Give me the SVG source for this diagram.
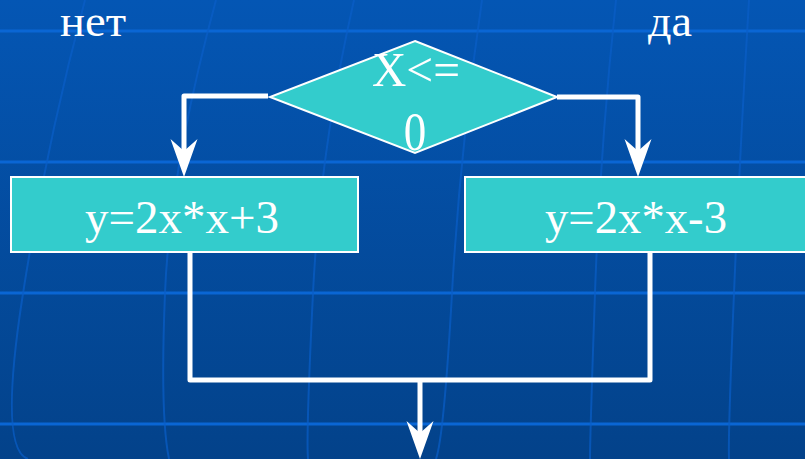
<svg xmlns="http://www.w3.org/2000/svg" width="805" height="459" viewBox="0 0 805 459">
  <defs>
    <linearGradient id="bg" x1="0" y1="0" x2="0" y2="1">
      <stop offset="0" stop-color="#0456B4"/>
      <stop offset="1" stop-color="#03428A"/>
    </linearGradient>
    <marker id="arrow" markerUnits="userSpaceOnUse" viewBox="-20 -15 42 30" refX="0" refY="0" markerWidth="42" markerHeight="30" orient="auto">
      <path d="M20,0 L-18,-13.5 L-6,0 L-18,13.5 Z" fill="#FFFFFF"/>
    </marker>
  </defs>
  <style>
    .grid-h { stroke: #0A66D4; stroke-width: 3; fill: none; }
    .grid-v { stroke: #0A5EC8; stroke-width: 2; fill: none; opacity: 0.7; }
    .shape { fill: #33CCCC; stroke: #FFFFFF; stroke-width: 2; }
    .conn { fill: none; stroke: #FFFFFF; stroke-width: 5; stroke-linejoin: round; }
    .lbl { fill: #FFFFFF; font-family: "Liberation Serif", "Times New Roman", serif; }
  </style>
  <rect x="0" y="0" width="805" height="459" fill="url(#bg)"/>
  <g id="background-grid">
    <path class="grid-h" d="M0,31 H805 M0,162 H805 M0,293 H805 M0,424 H805"/>
    <path class="grid-v" d="M85,0 Q45,150 22,300 T28,459"/>
    <path class="grid-v" d="M216,0 Q170,170 165,293 T169,459"/>
    <path class="grid-v" d="M354,0 Q320,150 313,293 T308,459"/>
    <path class="grid-v" d="M482,0 Q460,150 452,293 T436,459"/>
    <path class="grid-v" d="M616,0 Q600,150 595,293 T590,459"/>
    <path class="grid-v" d="M749,0 Q740,150 734,293 T729,459"/>
  </g>
  <g id="label-no">
    <text class="lbl" x="60" y="36" font-size="44" textLength="66" lengthAdjust="spacingAndGlyphs">нет</text>
  </g>
  <g id="label-yes">
    <text class="lbl" x="648" y="36" font-size="44" textLength="44" lengthAdjust="spacingAndGlyphs">да</text>
  </g>
  <g id="decision">
    <polygon class="shape" points="415,41 557,97 415,153 270,97"/>
    <text class="lbl" transform="translate(372,86) scale(1,1.1)" font-size="45" textLength="88" lengthAdjust="spacingAndGlyphs">X&lt;=</text>
    <text class="lbl" transform="translate(415,150) scale(1,1.2)" font-size="45" text-anchor="middle">0</text>
  </g>
  <g id="box-left">
    <rect class="shape" x="11" y="177" width="347" height="75"/>
    <text class="lbl" transform="translate(85,233) scale(1,1.08)" font-size="42" textLength="194" lengthAdjust="spacingAndGlyphs">y=2x*x+3</text>
  </g>
  <g id="box-right">
    <rect class="shape" x="465" y="177" width="342" height="75"/>
    <text class="lbl" transform="translate(545,233) scale(1,1.08)" font-size="42" textLength="182" lengthAdjust="spacingAndGlyphs">y=2x*x-3</text>
  </g>
  <g id="connectors">
    <path class="conn" d="M268,96 H184 V157" marker-end="url(#arrow)"/>
    <path class="conn" d="M557,97 H638 V157" marker-end="url(#arrow)"/>
    <path class="conn" d="M190,253 V380 H650 V253"/>
    <path class="conn" d="M420,380 V439" marker-end="url(#arrow)"/>
  </g>
</svg>
